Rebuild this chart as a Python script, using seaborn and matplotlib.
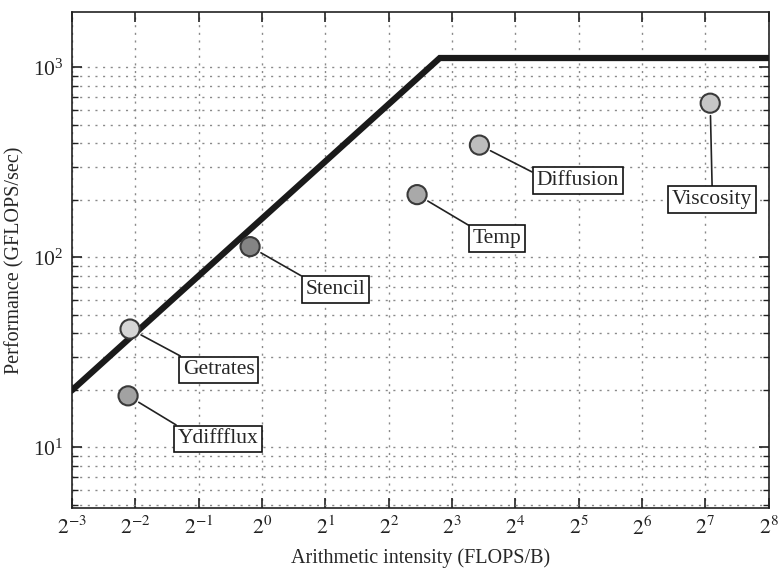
import numpy as np
import pandas as pd
import matplotlib
matplotlib.use("Agg")
import matplotlib.pyplot as plt
from matplotlib.ticker import LogLocator, FixedLocator, NullFormatter
import seaborn as sns

# Kernels: arithmetic intensity (FLOPS/B) and achieved performance (GFLOPS/sec)
kernels = ["Ydiffflux", "Getrates", "Stencil", "Temp", "Diffusion", "Viscosity"]
intensity = [0.231, 0.236, 0.878, 5.46, 10.8, 135.0]
performance = [18.7, 42.0, 114.0, 214.0, 390.0, 648.0]
fills = ["#a2a2a2", "#d6d6d6", "#848484", "#a9a9a9", "#bdbdbd", "#c6c6c6"]
# label box centres (data coords)
label_x = [0.619, 0.623, 2.23, 13.1, 31.6, 138.0]
label_y = [11.1, 25.6, 67.9, 125.6, 253.0, 201.0]
# where the leader line meets each box (fraction of box width, height)
leader_at = [(0.07, 1.0), (0.08, 1.0), (0.05, 1.0), (0.05, 1.0), (0.0, 0.85), (0.5, 1.0)]

# Roofline parameters
bandwidth = 160.0   # GB/s
peak = 1120.0       # GFLOPS/sec
x_min, x_max = 2.0 ** -3, 2.0 ** 8
y_min, y_max = 4.8, 1950.0

sns.set_style("ticks")
plt.rcParams["font.family"] = ["Liberation Serif", "DejaVu Serif"]
plt.rcParams["mathtext.fontset"] = "stix"

fig = plt.figure(figsize=(7.78, 5.83), dpi=100)
ax = fig.add_axes([0.0925, 0.1285, 0.8955, 0.8505])

knee = peak / bandwidth
roof = pd.DataFrame({"x": [x_min, knee, x_max],
                     "y": [bandwidth * x_min, peak, peak]})
sns.lineplot(data=roof, x="x", y="y", ax=ax, color="#1a1a1a", lw=4.5,
             solid_joinstyle="miter", zorder=3)

df = pd.DataFrame({"kernel": kernels, "x": intensity, "y": performance})
sns.scatterplot(data=df, x="x", y="y", hue="kernel", palette=fills,
                s=190, edgecolor="#3a3a3a", linewidth=1.5, legend=False,
                ax=ax, zorder=5)

ax.set_xscale("log", base=2)
ax.set_yscale("log")
ax.set_xlim(x_min, x_max)
ax.set_ylim(y_min, y_max)

ax.xaxis.set_major_locator(FixedLocator([2.0 ** k for k in range(-3, 9)]))
ax.xaxis.set_minor_locator(FixedLocator([]))
ax.set_xticklabels([f"$2^{{{k}}}$" for k in range(-3, 9)])
ax.yaxis.set_major_locator(LogLocator(base=10, numticks=10))
ax.yaxis.set_minor_locator(LogLocator(base=10, subs=np.arange(2, 10), numticks=20))
ax.yaxis.set_minor_formatter(NullFormatter())

ax.tick_params(which="both", direction="in", top=True, right=True,
               labelsize=15.5, colors="#222222", pad=6)
ax.tick_params(which="major", length=7, width=1.2)
ax.tick_params(which="minor", length=4, width=1.0)

ax.grid(which="major", axis="both", ls=(0, (1.5, 4)), color="#8a8a8a", lw=1.0)
ax.grid(which="minor", axis="y", ls=(0, (1.5, 4)), color="#8a8a8a", lw=1.0)
for sp in ax.spines.values():
    sp.set_linewidth(1.2)
    sp.set_color("#222222")

ax.set_xlabel("Arithmetic intensity (FLOPS/B)", fontsize=14.5, labelpad=6)
ax.set_ylabel("Performance (GFLOPS/sec)", fontsize=14.5, labelpad=6)

for name, x, y, lx, ly, rp in zip(kernels, intensity, performance,
                                   label_x, label_y, leader_at):
    ax.annotate(name, xy=(x, y), xytext=(lx, ly), ha="center", va="center",
                fontsize=15.5, zorder=6,
                bbox=dict(boxstyle="square,pad=0.18", fc="white",
                          ec="#111111", lw=1.2),
                arrowprops=dict(arrowstyle="-", color="#222222", lw=1.2,
                                shrinkA=0, shrinkB=9, relpos=rp))

fig.savefig("out.png", dpi=100)
